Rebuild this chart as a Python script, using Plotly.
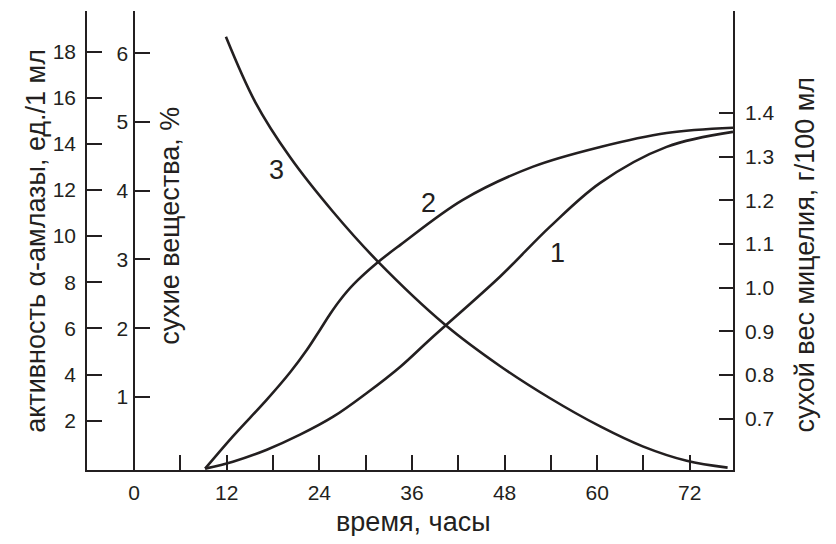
"""Alpha-amylase activity, dry matter and mycelium dry weight over time."""

import plotly.graph_objects as go

INK = "#231f20"
FONT = "Liberation Sans, Arial, sans-serif"

# curve 1: alpha-amylase activity, units/1 ml (outer left axis)
activity_hours = [9.2, 12.8, 17.2, 21.5, 25.8, 30.2, 34.5, 38.3, 47.4, 53.9, 60.4, 69.0, 77.6]
activity = [-0.08, 0.22, 0.74, 1.39, 2.17, 3.21, 4.34, 5.51, 8.24, 10.41, 12.31, 13.87, 14.52]

# curve 2: mycelium dry weight, g/100 ml (right axis)
mycelium_hours = [9.2, 12.8, 17.2, 20.2, 22.4, 24.1, 25.4, 26.7, 28.4, 31.5, 34.5, 42.6, 51.7, 60.4, 69.0, 77.6]
mycelium = [0.586, 0.66, 0.744, 0.806, 0.858, 0.904, 0.94, 0.972, 1.007, 1.057, 1.098, 1.201, 1.277, 1.322, 1.354, 1.366]

# curve 3: dry matter, % (inner left axis)
solids_hours = [11.9, 15.7, 20.2, 25.8, 31.5, 40.3, 47.4, 53.9, 60.4, 65.9, 71.6, 76.9]
solids = [6.24, 5.29, 4.49, 3.69, 2.98, 2.05, 1.45, 0.98, 0.57, 0.28, 0.07, -0.03]

hour_ticks = [0, 12, 24, 36, 48, 60, 72]
activity_ticks = [2, 4, 6, 8, 10, 12, 14, 16, 18]
solids_ticks = [1, 2, 3, 4, 5, 6]
mycelium_ticks = [0.7, 0.8, 0.9, 1.0, 1.1, 1.2, 1.3, 1.4]

X_RANGE = [-6.1, 77.6]

line = dict(color=INK, width=2.6, shape="spline", smoothing=1.0)

fig = go.Figure()
fig.add_trace(go.Scatter(x=activity_hours, y=activity, mode="lines", line=line, yaxis="y"))
fig.add_trace(go.Scatter(x=mycelium_hours, y=mycelium, mode="lines", line=line, yaxis="y3"))
fig.add_trace(go.Scatter(x=solids_hours, y=solids, mode="lines", line=line, yaxis="y2"))

axis_common = dict(
    showline=True, linecolor=INK, linewidth=1.5, showgrid=False, zeroline=False,
    ticks="inside", tickcolor=INK, tickwidth=1.5, ticklen=15, automargin=False,
    tickfont=dict(family=FONT, size=21, color=INK),
)

# the page body adds an 8px margin, so the figure is sized to fit inside it
fig.update_layout(
    width=820, height=528,
    margin=dict(l=79, r=95, t=3, b=66, autoexpand=False),
    paper_bgcolor="white", plot_bgcolor="white",
    showlegend=False,
    xaxis=dict(
        range=X_RANGE, tickvals=hour_ticks, ticklabelstandoff=3,
        minor=dict(dtick=6, tick0=0, ticks="inside", ticklen=15, tickcolor=INK, tickwidth=1.5),
        **axis_common,
    ),
    yaxis=dict(range=[-0.14, 19.76], tickvals=activity_ticks, ticklabelstandoff=5, **axis_common),
    yaxis2=dict(
        range=[-0.064, 6.615], tickvals=solids_ticks, overlaying="y", anchor="free",
        position=(0 - X_RANGE[0]) / (X_RANGE[1] - X_RANGE[0]), side="left",
        ticklabelstandoff=1, **axis_common,
    ),
    yaxis3=dict(
        range=[0.583, 1.633], tickvals=mycelium_ticks,
        ticktext=[f"{v:.1f}" for v in mycelium_ticks],
        overlaying="y", anchor="x", side="right", ticklabelstandoff=6,
        **{**axis_common, "ticklen": 14},
    ),
)

title_font = dict(family=FONT, size=27, color=INK)
titles = [
    ("активность α-амлазы, ед./1 мл", -0.08, 0.5, -90),
    ("сухие вещества, %", 0.1285, 0.532, -90),
    ("сухой вес мицелия, г/100 мл", 1.111, 0.469, -90),
    ("время, часы", 0.505, -0.114, 0),
]
for text, x, y, angle in titles:
    fig.add_annotation(
        text=text, x=x, y=y, xref="paper", yref="paper", showarrow=False,
        textangle=angle, xanchor="center", yanchor="middle", font=title_font,
    )

# curve numbers
for text, x, y in [("1", 54.8, 9.28), ("2", 38.1, 11.44), ("3", 18.5, 12.87)]:
    fig.add_annotation(text=text, x=x, y=y, xref="x", yref="y", showarrow=False, font=title_font)

fig.write_html("out.html")
